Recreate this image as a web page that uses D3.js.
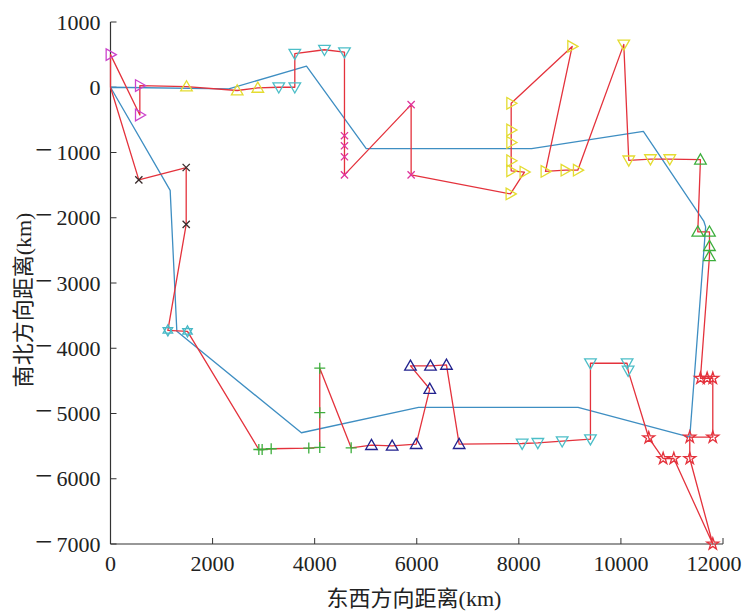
<!DOCTYPE html>
<html>
<head>
<meta charset="utf-8">
<script src="https://cdn.jsdelivr.net/npm/d3@7.9.0/dist/d3.min.js"></script>
<style>
  html, body { margin: 0; padding: 0; background: #fff; }
  svg { display: block; }
  .tick-label { font-family: "Liberation Serif", "DejaVu Serif", serif; font-size: 22px; fill: #222; }
  .axis-title { font-family: "Liberation Serif", "Noto Sans CJK SC", serif; font-size: 22px; fill: #222; }
</style>
</head>
<body>
<div id="chart"></div>
<script>
// ---- data (km) ----
const depot = [0, 0];

// red tour, visited cluster by cluster
const blackX       = [[555, -1420], [1483, -1230], [1483, -2101]];
const cyanHexagram = [[1124, -3726], [1508, -3741]];
const greenPlus    = [[2906, -5552], [2971, -5552], [3148, -5540], [3885, -5530], [4100, -5520], [4100, -4988], [4100, -4306], [4715, -5526]];
const navyUp       = [[5113, -5485], [5518, -5496], [5989, -5470], [6255, -4624], [5877, -4270], [6269, -4270], [6582, -4255], [6831, -5470]];
const cyanDownLow  = [[8065, -5460], [8372, -5450], [8849, -5424], [9403, -5393], [9403, -4230], [10121, -4230], [10141, -4342]];
const redStar      = [[10545, -5372], [10827, -5690], [11036, -5690], [11800, -7000], [11349, -5690], [11349, -5362], [11800, -5362], [11800, -4460], [11689, -4460], [11558, -4460]];
const greenUp      = [[11735, -2589], [11735, -2435], [11735, -2215], [11506, -2215], [11558, -1110]];
const yellowDown   = [[10957, -1101], [10579, -1101], [10154, -1120], [10056, 657]];
const yellowRight  = [[9155, -1271], [8914, -1271], [8522, -1290], [9045, 626], [7850, -246], [7850, -655], [7850, -846], [7850, -1127], [7850, -1281], [8110, -1300], [7836, -1635]];
const magentaX     = [[5890, -1343], [5890, -266], [4584, -1343], [4584, -1066], [4584, -897], [4584, -743]];
const cyanDownTop  = [[4584, 538], [4192, 575], [3611, 514], [3611, 0], [3297, 0]];
const yellowUp     = [[2886, -10], [2482, -50], [1489, 10]];
const magentaRight = [[575, 26], [575, -425], [0, 500]];

// blue route
const blueRoute = [[0, 0], [2318, -25], [3840, 325], [5010, -940], [8250, -940], [10440, -677], [11623, -2050], [11660, -2140],
  [11349, -5362], [9160, -4905], [6035, -4905], [3740, -5295], [1300, -3741], [1169, -1580], [0, 0]];

const xTicks = [0, 2000, 4000, 6000, 8000, 10000, 12000];
const yTicks = [1000, 0, -1000, -2000, -3000, -4000, -5000, -6000, -7000];
const xTitle = '东西方向距离(km)';
const yTitle = '南北方向距离(km)';

// ---- marker styles per cluster ----
const groups = [
  { pts: blackX,       shape: 'x',        color: '#3a2c2c' },
  { pts: cyanHexagram, shape: 'hexagram', color: '#48b8c6' },
  { pts: greenPlus,    shape: 'plus',     color: '#3cae3c' },
  { pts: navyUp,       shape: 'up',       color: '#22228e' },
  { pts: cyanDownLow,  shape: 'down',     color: '#4cbec8' },
  { pts: redStar,      shape: 'star',     color: '#e4323c' },
  { pts: greenUp,      shape: 'up',       color: '#3cae3c' },
  { pts: yellowDown,   shape: 'down',     color: '#e4dc30' },
  { pts: yellowRight,  shape: 'right',    color: '#e4dc30' },
  { pts: magentaX,     shape: 'x',        color: '#e0349c' },
  { pts: cyanDownTop,  shape: 'down',     color: '#4cbec8' },
  { pts: yellowUp,     shape: 'up',       color: '#e4dc30' },
  { pts: magentaRight, shape: 'right',    color: '#cc44cc' },
];

const redTour = [depot, ...groups.flatMap(g => g.pts), depot];

// ---- layout ----
const width = 745, height = 611;
const plot = { left: 110.5, right: 723, top: 22, bottom: 544 };

const svg = d3.select('#chart').append('svg')
  .attr('width', width).attr('height', height);

const x = d3.scaleLinear().domain([0, 12000]).range([plot.left, plot.right]);
const y = d3.scaleLinear().domain([-7000, 1000]).range([plot.bottom, plot.top]);

function markerPath(shape) {
  const r = 5.8;
  switch (shape) {
    case 'up':    return `M0,${-r}L${r},${r * 0.75}L${-r},${r * 0.75}Z`;
    case 'down':  return `M0,${r}L${r},${-r * 0.75}L${-r},${-r * 0.75}Z`;
    case 'right': return `M${r},0L${-r * 0.75},${-r}L${-r * 0.75},${r}Z`;
    case 'x':     { const s = 3.6; return `M${-s},${-s}L${s},${s}M${-s},${s}L${s},${-s}`; }
    case 'plus':  { const s = 5.5; return `M${-s},0H${s}M0,${-s}V${s}`; }
    case 'star':  return d3.symbol(d3.symbolStar, 44)();
    case 'hexagram': {
      const s = 5.5;
      const tri = a => d3.range(3).map(i => {
        const t = a + i * 2 * Math.PI / 3;
        return [s * Math.cos(t), s * Math.sin(t)];
      });
      const p = pts => 'M' + pts.map(q => q.join(',')).join('L') + 'Z';
      return p(tri(-Math.PI / 2)) + p(tri(Math.PI / 2));
    }
  }
}

// axes (inward ticks, left + bottom only)
const axisColor = '#333';
const axisG = svg.append('g');

axisG.append('line')
  .attr('x1', plot.left).attr('x2', plot.right)
  .attr('y1', plot.bottom).attr('y2', plot.bottom)
  .attr('stroke', axisColor).attr('stroke-width', 1.2);
axisG.append('line')
  .attr('x1', plot.left).attr('x2', plot.left)
  .attr('y1', plot.top).attr('y2', plot.bottom)
  .attr('stroke', axisColor).attr('stroke-width', 1.2);

axisG.selectAll('.xt').data(xTicks).join('line')
  .attr('x1', d => x(d)).attr('x2', d => x(d))
  .attr('y1', plot.bottom).attr('y2', plot.bottom - 6)
  .attr('stroke', axisColor);
axisG.selectAll('.yt').data(yTicks).join('line')
  .attr('x1', plot.left).attr('x2', plot.left + 6)
  .attr('y1', d => y(d)).attr('y2', d => y(d))
  .attr('stroke', axisColor);

// x labels; the last one is pulled in so it stays inside the page
axisG.selectAll('.xl').data(xTicks).join('text')
  .attr('class', 'tick-label')
  .attr('x', d => Math.min(x(d), width - 31)).attr('y', plot.bottom + 27)
  .attr('text-anchor', 'middle')
  .text(d => String(d));

// y labels with a long minus sign as in the original
const yl = axisG.selectAll('.yl').data(yTicks).join('text')
  .attr('class', 'tick-label')
  .attr('x', plot.left - 10).attr('y', d => y(d) + 7.5)
  .attr('text-anchor', 'end');
yl.filter(d => d < 0).append('tspan')
  .style('font-size', '31px')
  .text('\u2212');
yl.append('tspan')
  .attr('dx', d => d < 0 ? 4 : 0)
  .text(d => String(Math.abs(d)));

svg.append('text').attr('class', 'axis-title')
  .attr('x', 414).attr('y', 606)
  .attr('text-anchor', 'middle')
  .text(xTitle);
svg.append('text').attr('class', 'axis-title')
  .attr('transform', `translate(31,300) rotate(-90)`)
  .attr('text-anchor', 'middle')
  .text(yTitle);

// routes
const line = d3.line().x(d => x(d[0])).y(d => y(d[1]));

svg.append('path')
  .attr('d', line(blueRoute))
  .attr('fill', 'none')
  .attr('stroke', '#3e8ec2')
  .attr('stroke-width', 1.3)
  .attr('stroke-linejoin', 'round');

svg.append('path')
  .attr('d', line(redTour))
  .attr('fill', 'none')
  .attr('stroke', '#e4323c')
  .attr('stroke-width', 1.3)
  .attr('stroke-linejoin', 'round');

// markers
const mk = svg.append('g').attr('class', 'markers');
groups.forEach(g => {
  mk.append('g').selectAll('path').data(g.pts).join('path')
    .attr('transform', d => `translate(${x(d[0])},${y(d[1])})`)
    .attr('d', markerPath(g.shape))
    .attr('fill', 'none')
    .attr('stroke', g.color)
    .attr('stroke-width', 1.3);
});
</script>
</body>
</html>
